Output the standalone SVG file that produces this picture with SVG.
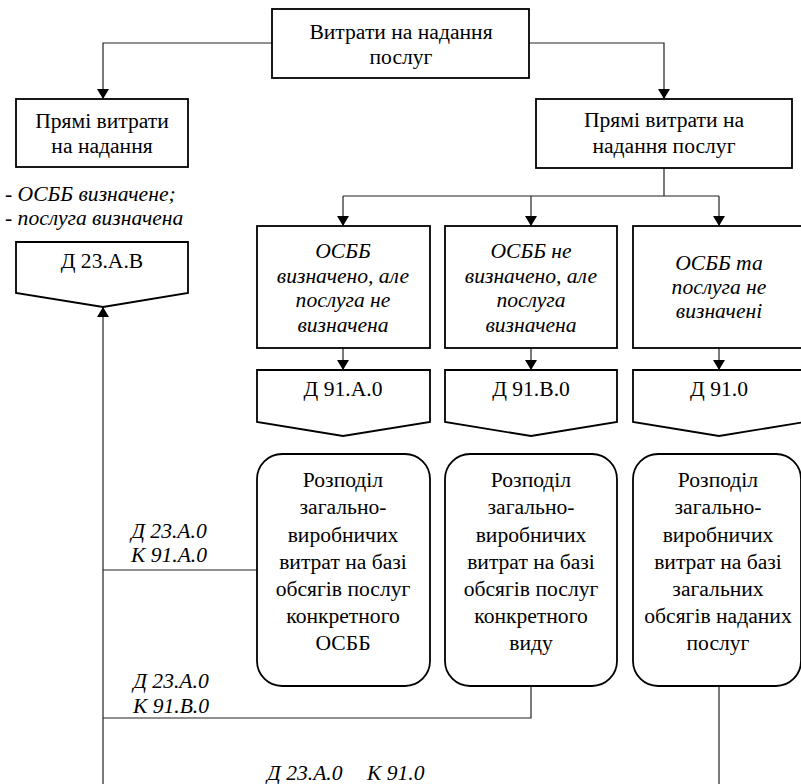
<svg xmlns="http://www.w3.org/2000/svg" width="801" height="784" viewBox="0 0 801 784" font-family="'Liberation Serif', Tinos, 'Times New Roman', 'DejaVu Serif', serif">
<style>
.box{fill:#fff;stroke:#000;stroke-width:1.8}
.ln{fill:none;stroke:#222;stroke-width:1.2}
text{font-family:"Liberation Serif",Tinos,"Times New Roman","DejaVu Serif",serif;font-size:21.6px;fill:#000;text-anchor:middle}
.i{font-style:italic}
.l{text-anchor:start}
</style>
<defs>
<marker id="ah" viewBox="0 0 10 12" refX="10" refY="6" markerWidth="10" markerHeight="12" markerUnits="userSpaceOnUse" orient="auto">
<path d="M0,0 L10,6 L0,12 Z" fill="#000"/>
</marker>
</defs>
<rect width="801" height="784" fill="#fff"/>
<g id="connectors">
<path class="ln" d="M272,43 H103 V99" marker-end="url(#ah)"/>
<path class="ln" d="M529,43 H664 V99" marker-end="url(#ah)"/>
<path class="ln" d="M664,168 V196"/>
<path class="ln" d="M343,196 H719"/>
<path class="ln" d="M343,196 V226" marker-end="url(#ah)"/>
<path class="ln" d="M531,196 V226" marker-end="url(#ah)"/>
<path class="ln" d="M719,196 V226" marker-end="url(#ah)"/>
<path class="ln" d="M343,348 V370" marker-end="url(#ah)"/>
<path class="ln" d="M531,348 V370" marker-end="url(#ah)"/>
<path class="ln" d="M719,348 V370" marker-end="url(#ah)"/>
<path class="ln" d="M103,784 V307" marker-end="url(#ah)"/>
<path class="ln" d="M257,570 H103"/>
<path class="ln" d="M531,686 V718 H103"/>
<path class="ln" d="M719,686 V784"/>
<text class="i" x="169" y="538">Д 23.А.0</text>
<text class="i" x="169" y="562">К 91.А.0</text>
<text class="i" x="171" y="688">Д 23.А.0</text>
<text class="i" x="171" y="713">К 91.В.0</text>
<text class="i l" y="780"><tspan x="267">Д 23.А.0</tspan><tspan x="367">К 91.0</tspan></text>
</g>
<g id="top">
<rect class="box" x="272" y="9" width="257" height="69"/>
<text x="401" y="39">Витрати на надання</text>
<text x="401" y="64">послуг</text>
</g>
<g id="direct-left">
<rect class="box" x="16" y="99" width="172" height="68"/>
<text x="102" y="128">Прямі витрати</text>
<text x="102" y="153">на надання</text>
</g>
<g id="conditions-left">
<text class="i l" x="5" y="201">- ОСББ визначене;</text>
<text class="i l" x="5" y="225">- послуга визначена</text>
</g>
<g id="d23av">
<path class="box" d="M16,242 H188 V293 L103,307 L16,293 Z"/>
<text x="102" y="268">Д 23.А.В</text>
</g>
<g id="direct-right">
<rect class="box" x="536" y="99" width="256" height="69"/>
<text x="664" y="127">Прямі витрати на</text>
<text x="664" y="153">надання послуг</text>
</g>
<g id="case1">
<rect class="box" x="257" y="226" width="173" height="122"/>
<text class="i" x="343" y="258">ОСББ</text>
<text class="i" x="343" y="283">визначено, але</text>
<text class="i" x="343" y="307">послуга не</text>
<text class="i" x="343" y="332">визначена</text>
</g>
<g id="case2">
<rect class="box" x="445" y="226" width="172" height="122"/>
<text class="i" x="531" y="258">ОСББ не</text>
<text class="i" x="531" y="283">визначено, але</text>
<text class="i" x="531" y="307">послуга</text>
<text class="i" x="531" y="332">визначена</text>
</g>
<g id="case3">
<rect class="box" x="633" y="226" width="172" height="122"/>
<text class="i" x="719" y="270">ОСББ та</text>
<text class="i" x="719" y="294">послуга не</text>
<text class="i" x="719" y="318">визначені</text>
</g>
<g id="d91a0">
<path class="box" d="M257,370 H430 V422 L343,436 L257,422 Z"/>
<text x="343" y="396">Д 91.А.0</text>
</g>
<g id="d91b0">
<path class="box" d="M445,370 H617 V422 L531,436 L445,422 Z"/>
<text x="531" y="396">Д 91.В.0</text>
</g>
<g id="d910">
<path class="box" d="M633,370 H805 V422 L719,436 L633,422 Z"/>
<text x="719" y="396">Д 91.0</text>
</g>
<g id="alloc1">
<rect class="box" x="257" y="454" width="173" height="232" rx="25"/>
<text x="343" y="487">Розподіл</text>
<text x="343" y="514">загально-</text>
<text x="343" y="542">виробничих</text>
<text x="343" y="569">витрат на базі</text>
<text x="343" y="596">обсягів послуг</text>
<text x="343" y="623">конкретного</text>
<text x="343" y="650">ОСББ</text>
</g>
<g id="alloc2">
<rect class="box" x="445" y="454" width="172" height="232" rx="25"/>
<text x="531" y="487">Розподіл</text>
<text x="531" y="514">загально-</text>
<text x="531" y="542">виробничих</text>
<text x="531" y="569">витрат на базі</text>
<text x="531" y="596">обсягів послуг</text>
<text x="531" y="623">конкретного</text>
<text x="531" y="650">виду</text>
</g>
<g id="alloc3">
<rect class="box" x="633" y="454" width="168" height="232" rx="25"/>
<text x="718" y="487">Розподіл</text>
<text x="718" y="514">загально-</text>
<text x="718" y="542">виробничих</text>
<text x="718" y="569">витрат на базі</text>
<text x="718" y="596">загальних</text>
<text x="718" y="623">обсягів наданих</text>
<text x="718" y="650">послуг</text>
</g>
</svg>
